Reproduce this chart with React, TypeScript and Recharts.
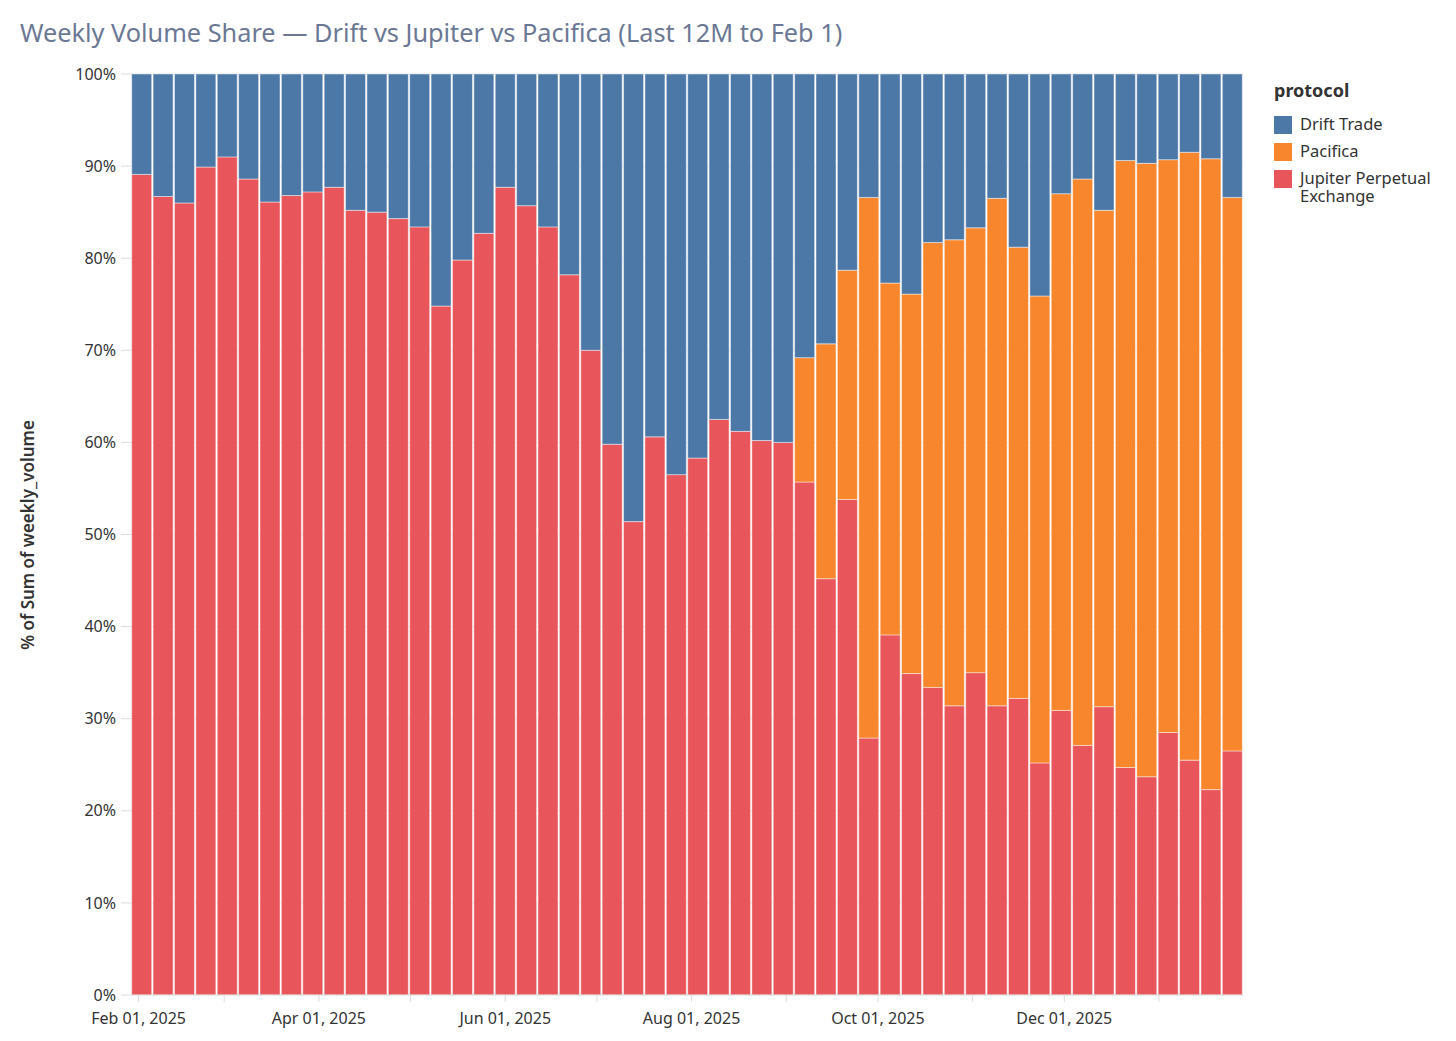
import React from "react";
import { BarChart, Bar, XAxis, YAxis, CartesianGrid } from "recharts";

const weeks = [
  "2025-02-02", "2025-02-09", "2025-02-16", "2025-02-23",
  "2025-03-02", "2025-03-09", "2025-03-16", "2025-03-23", "2025-03-30",
  "2025-04-06", "2025-04-13", "2025-04-20", "2025-04-27",
  "2025-05-04", "2025-05-11", "2025-05-18", "2025-05-25",
  "2025-06-01", "2025-06-08", "2025-06-15", "2025-06-22", "2025-06-29",
  "2025-07-06", "2025-07-13", "2025-07-20", "2025-07-27",
  "2025-08-03", "2025-08-10", "2025-08-17", "2025-08-24", "2025-08-31",
  "2025-09-07", "2025-09-14", "2025-09-21", "2025-09-28",
  "2025-10-05", "2025-10-12", "2025-10-19", "2025-10-26",
  "2025-11-02", "2025-11-09", "2025-11-16", "2025-11-23", "2025-11-30",
  "2025-12-07", "2025-12-14", "2025-12-21", "2025-12-28",
  "2026-01-04", "2026-01-11", "2026-01-18", "2026-01-25",
];

const jupiter = [
  89.1, 86.7, 86.0, 89.9, 91.0, 88.6, 86.1, 86.8, 87.2, 87.7,
  85.2, 85.0, 84.3, 83.4, 74.8, 79.8, 82.7, 87.7, 85.7, 83.4,
  78.2, 70.0, 59.8, 51.4, 60.6, 56.5, 58.3, 62.5, 61.2, 60.2,
  60.0, 55.7, 45.2, 53.8, 27.9, 39.1, 34.9, 33.4, 31.4, 35.0,
  31.4, 32.2, 25.2, 30.9, 27.1, 31.3, 24.7, 23.7, 28.5, 25.5,
  22.3, 26.5,
];

const pacifica = [
  0, 0, 0, 0, 0, 0, 0, 0, 0, 0,
  0, 0, 0, 0, 0, 0, 0, 0, 0, 0,
  0, 0, 0, 0, 0, 0, 0, 0, 0, 0,
  0, 13.5, 25.5, 24.9, 58.7, 38.2, 41.2, 48.3, 50.6, 48.3,
  55.1, 49.0, 50.7, 56.1, 61.5, 53.9, 65.9, 66.6, 62.2, 66.0,
  68.5, 60.1,
];

const drift = [
  10.9, 13.3, 14.0, 10.1, 9.0, 11.4, 13.9, 13.2, 12.8, 12.3,
  14.8, 15.0, 15.7, 16.6, 25.2, 20.2, 17.3, 12.3, 14.3, 16.6,
  21.8, 30.0, 40.2, 48.6, 39.4, 43.5, 41.7, 37.5, 38.8, 39.8,
  40.0, 30.8, 29.3, 21.3, 13.4, 22.7, 23.9, 18.3, 18.0, 16.7,
  13.5, 18.8, 24.1, 13.0, 11.4, 14.8, 9.4, 9.7, 9.3, 8.5,
  9.2, 13.4,
];

const monthTicks = [
  "2025-02-01", "2025-03-01", "2025-04-01", "2025-05-01", "2025-06-01",
  "2025-07-01", "2025-08-01", "2025-09-01", "2025-10-01", "2025-11-01",
  "2025-12-01", "2026-01-01",
];
const labeledTicks = [
  "2025-02-01", "2025-04-01", "2025-06-01", "2025-08-01", "2025-10-01", "2025-12-01",
];
const monthNames = ["Jan", "Feb", "Mar", "Apr", "May", "Jun", "Jul", "Aug", "Sep", "Oct", "Nov", "Dec"];
const yTicks = [0, 10, 20, 30, 40, 50, 60, 70, 80, 90, 100];

const series = [
  { key: "drift", name: "Drift Trade", color: "#4C78A8" },
  { key: "pacifica", name: "Pacifica", color: "#F7862C" },
  { key: "jupiter", name: "Jupiter Perpetual Exchange", color: "#E8555A" },
];

const DAY = 86400000;
const toDay = (s: string) => Date.parse(s + "T00:00:00Z") / DAY;

const data = weeks.map((w, i) => ({
  x: toDay(w),
  jupiter: jupiter[i],
  pacifica: pacifica[i],
  drift: drift[i],
}));

const xDomain = [toDay(weeks[0]) - 3.5, toDay(weeks[weeks.length - 1]) + 3.5];
const labeledSet = new Set(labeledTicks.map(toDay));

const fmtDate = (d: number) => {
  if (!labeledSet.has(d)) return "";
  const dt = new Date(d * DAY);
  const dd = String(dt.getUTCDate()).padStart(2, "0");
  return `${monthNames[dt.getUTCMonth()]} ${dd}, ${dt.getUTCFullYear()}`;
};

const FONT = "'Noto Sans', 'Open Sans', sans-serif";

const LegendBox = () => (
  <div style={{ position: "absolute", left: 1274, top: 78, width: 180, fontFamily: FONT, color: "#333" }}>
    <div style={{ fontWeight: 700, fontSize: 18, marginBottom: 13 }}>protocol</div>
    {series.map((s) => (
      <div key={s.key} style={{ display: "flex", alignItems: "flex-start", marginBottom: 8 }}>
        <div style={{ width: 18, height: 18, background: s.color, marginRight: 8, flexShrink: 0, marginTop: 1 }} />
        <div style={{ fontSize: 16.5, lineHeight: "18px", width: 160 }}>{s.name}</div>
      </div>
    ))}
  </div>
);

export default function App() {
  return (
    <div style={{ position: "absolute", left: 0, top: 0, width: 1456, height: 1041, background: "#fff", fontFamily: FONT }}>
      <div style={{ position: "absolute", left: 20, top: 15, fontSize: 25.3, color: "#6b7894", whiteSpace: "nowrap" }}>
        Weekly Volume Share — Drift vs Jupiter vs Pacifica (Last 12M to Feb 1)
      </div>
      <div
        style={{
          position: "absolute",
          left: 27,
          top: 535,
          transform: "translate(-50%, -50%) rotate(-90deg)",
          fontSize: 17,
          fontWeight: 600,
          color: "#333",
          whiteSpace: "nowrap",
        }}
      >
        % of Sum of weekly_volume
      </div>
      <LegendBox />
      <div style={{ position: "absolute", left: 0, top: 0 }}>
        <BarChart
          width={1456}
          height={1041}
          data={data}
          margin={{ top: 74, right: 213, bottom: 6, left: 71 }}
          barCategoryGap={0.7}
        >
          <CartesianGrid vertical={false} stroke="#e6e6e6" />
          <XAxis
            dataKey="x"
            type="number"
            domain={xDomain}
            allowDataOverflow
            ticks={monthTicks.map(toDay)}
            interval={0}
            tickFormatter={fmtDate}
            height={40}
            tickSize={7}
            tickMargin={11}
            axisLine={{ stroke: "#ddd" }}
            tickLine={{ stroke: "#ddd" }}
            tick={{ fill: "#333", fontSize: 16, fontFamily: FONT }}
          />
          <YAxis
            type="number"
            domain={[0, 100]}
            ticks={yTicks}
            interval={0}
            width={60}
            tickFormatter={(v: number) => `${v}%`}
            axisLine={false}
            tickSize={10}
            tickMargin={5}
            tickLine={{ stroke: "#ddd" }}
            tick={{ fill: "#333", fontSize: 16, fontFamily: FONT }}
          />
          <Bar dataKey="jupiter" stackId="a" fill="#E8555A" stroke="#fff" strokeOpacity={0.45} strokeWidth={1} isAnimationActive={false} />
          <Bar dataKey="pacifica" stackId="a" fill="#F7862C" stroke="#fff" strokeOpacity={0.45} strokeWidth={1} isAnimationActive={false} />
          <Bar dataKey="drift" stackId="a" fill="#4C78A8" stroke="#fff" strokeOpacity={0.45} strokeWidth={1} isAnimationActive={false} />
        </BarChart>
      </div>
    </div>
  );
}
